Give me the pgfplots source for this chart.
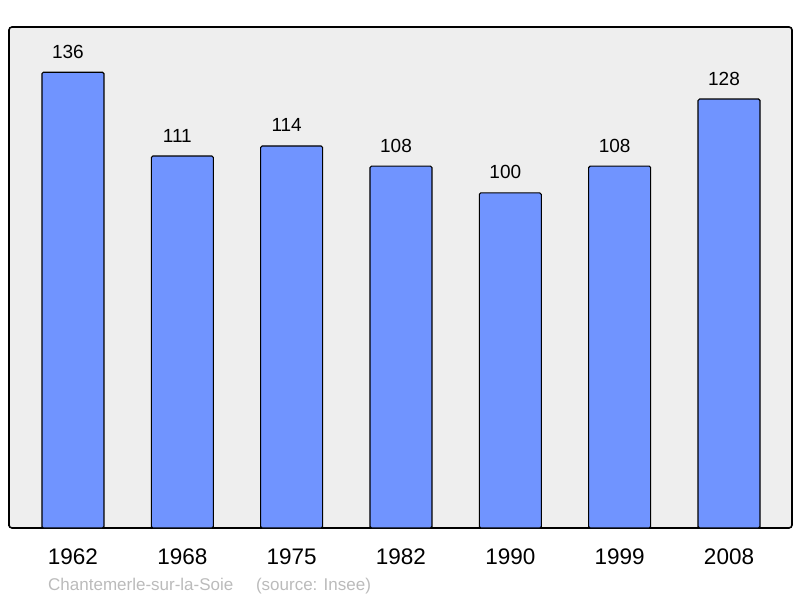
\documentclass[border=0pt]{standalone}
\usepackage{pgfplots}
\pgfplotsset{compat=1.18}
\usepackage{fontspec}
\setmainfont{Liberation Sans}
\definecolor{barblue}{RGB}{112,148,255}
\definecolor{panel}{RGB}{238,238,238}
\definecolor{srcgray}{RGB}{187,187,187}
\begin{document}
\begin{tikzpicture}
\path[use as bounding box] (-9bp,-70bp) rectangle (791bp,528bp);
\begin{axis}[
    scale only axis,
    width=783bp, height=501bp,
    xmin=-0.585, xmax=6.576,
    ymin=0, ymax=149.5,
    axis background/.style={fill=panel},
    axis line style={line width=1.6bp, black, rounded corners=3bp},
    xtick=data,
    xticklabels={1962,1968,1975,1982,1990,1999,2008},
    ytick=\empty,
    major tick length=0pt,
    xticklabel style={font=\fontsize{22.5bp}{24bp}\selectfont, anchor=base, yshift=-36bp},
    ybar, bar width=62bp,
    nodes near coords,
    every node near coord/.append style={font=\fontsize{19bp}{21bp}\selectfont, anchor=base, xshift=-5bp, yshift=14bp, inner sep=0pt},
    /pgf/number format/assume math mode=true,
    clip=false,
]
\addplot[fill=barblue, draw=black, line width=1.1bp, rounded corners=1.5bp] coordinates {
    (0,136) (1,111) (2,114) (3,108) (4,100) (5,108) (6,128)
};
\end{axis}
\node[anchor=base west, text=srcgray, font=\fontsize{17bp}{19bp}\selectfont, inner sep=0pt]
    at (39bp,-62bp) {Chantemerle-sur-la-Soie\hspace{22.7bp}(source: Insee)};
\end{tikzpicture}
\end{document}
